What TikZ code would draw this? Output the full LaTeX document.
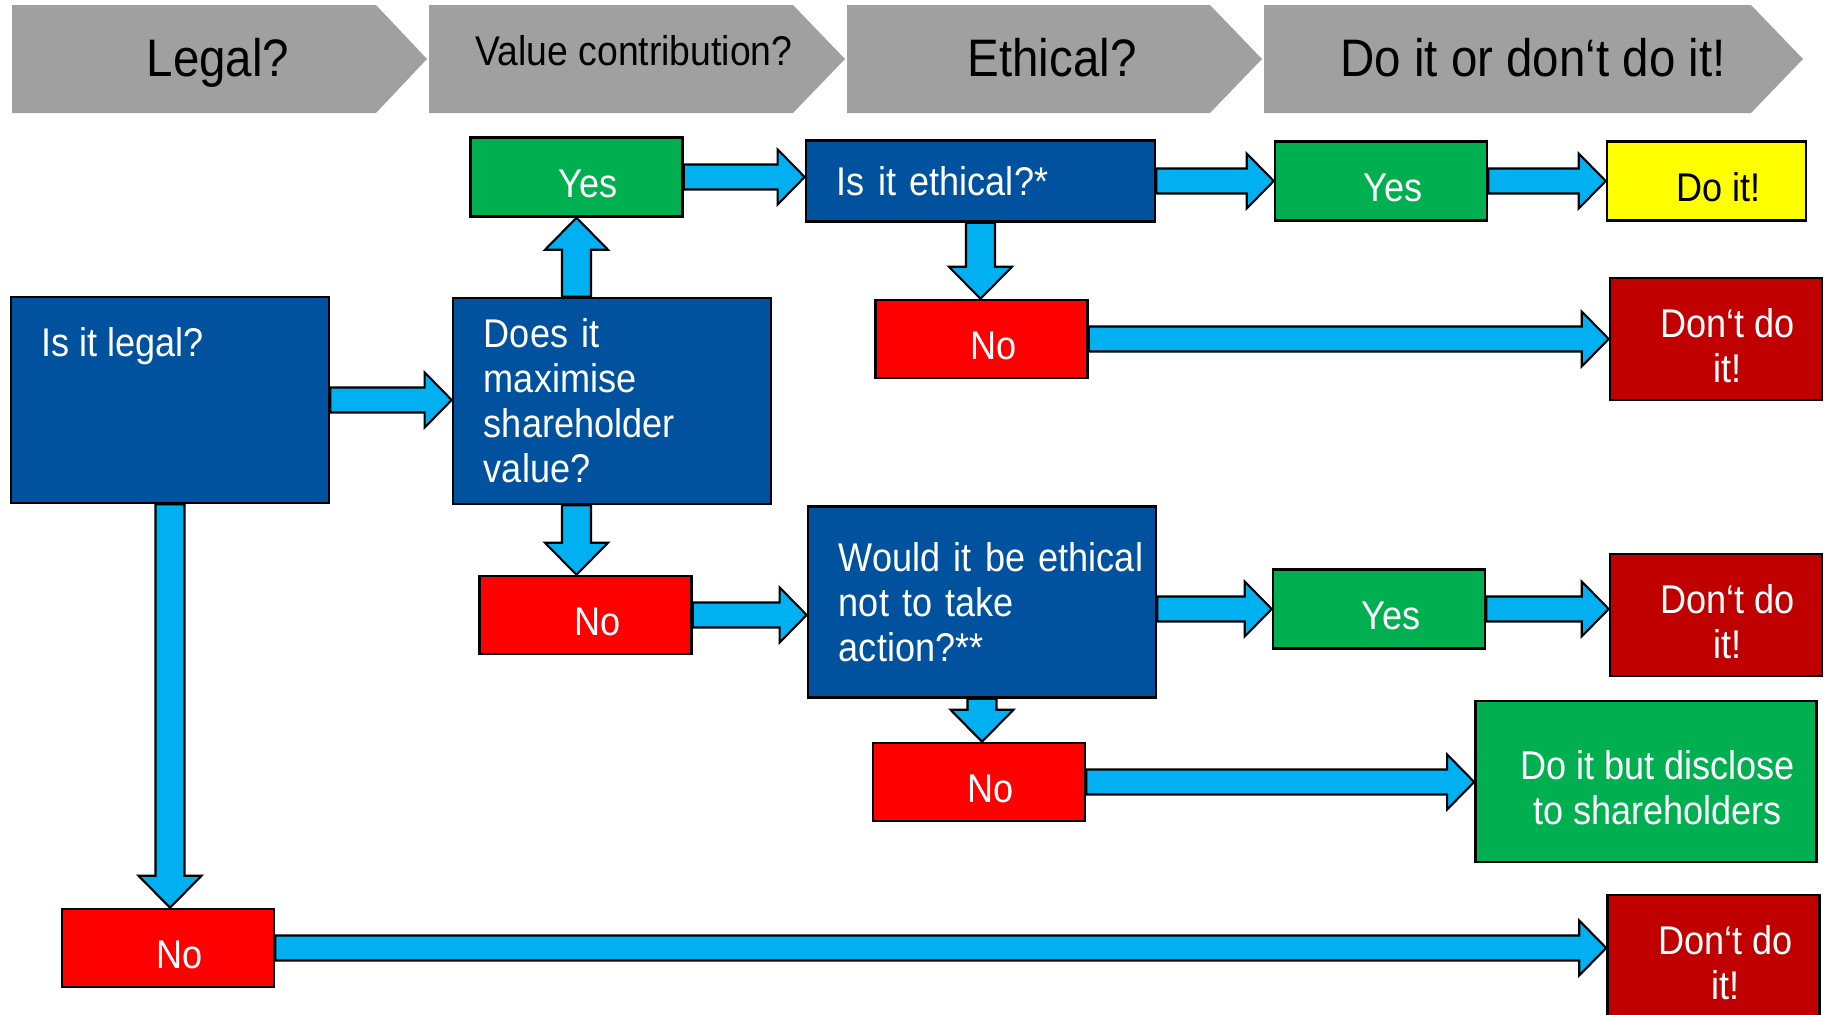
\documentclass[tikz,border=0pt]{standalone}
\usepackage{fontspec}
\setmainfont{Liberation Sans}[FakeStretch=0.9]
\usetikzlibrary{calc}

\definecolor{headgray}{RGB}{160,160,160}
\definecolor{qblue}{RGB}{0,81,158}
\definecolor{okgreen}{RGB}{0,176,80}
\definecolor{nored}{RGB}{255,0,0}
\definecolor{stopred}{RGB}{192,0,0}
\definecolor{goyellow}{RGB}{255,255,0}
\definecolor{arrowblue}{RGB}{0,176,240}

\newcommand{\bodyfont}{\fontsize{11.4pt}{12.8pt}\selectfont}
\newcommand{\headfont}{\fontsize{15pt}{17pt}\selectfont}
\newcommand{\subheadfont}{\fontsize{11.8pt}{14pt}\selectfont}

% block arrow from #1 to #2
\newcommand{\arrsw}{0.125cm}
\newcommand{\arrhw}{0.275cm}
\newcommand{\arrhl}{0.27cm}
\newcommand{\blockarrow}[2]{%
  \coordinate (ba) at ($(#2)!\arrhl!(#1)$);
  \draw[barrow] ($(#1)!\arrsw!-90:(#2)$) -- ($(ba)!\arrsw!-90:(#2)$)
    -- ($(ba)!\arrhw!-90:(#2)$) -- (#2) -- ($(ba)!\arrhw!90:(#2)$)
    -- ($(ba)!\arrsw!90:(#2)$) -- ($(#1)!\arrsw!90:(#2)$) -- cycle;}

\begin{document}
\begin{tikzpicture}[x=0.01cm,y=-0.01cm]
    % styles
    \tikzset{box/.style={draw=black,line width=0.7pt,text=white,font=\bodyfont,inner sep=0pt,align=center},
             qbox/.style={box,fill=qblue,align=left,inner xsep=0.31cm},
             qtxt/.style={text=white,font=\bodyfont,inner sep=0pt},
             boxlbl/.style={text=white,font=\bodyfont,align=center,inner sep=0pt,xshift=0.117cm,yshift=-0.065cm},
             txt/.style={label={[boxlbl]center:{#1}}},
             yesbox/.style={box,fill=okgreen,minimum width=2.12cm,minimum height=0.79cm,txt=Yes},
             nobox/.style={box,fill=nored,minimum width=2.12cm,minimum height=0.78cm,txt=No},
             stopbox/.style={box,fill=stopred,minimum width=2.12cm,minimum height=1.22cm,txt={Don‘t do\\it!}},
             headtxt/.style={font=\headfont,anchor=base,inner sep=0pt},
             barrow/.style={draw=black,line width=0.6pt,fill=arrowblue,line join=miter}}
    \useasboundingbox (0,0) rectangle (1829,1015);

    % header
    \fill[headgray] (12,5) -- (376,5) -- (427,59) -- (376,113) -- (12,113) -- cycle;
    \fill[headgray] (429,5) -- (793,5) -- (845,59) -- (793,113) -- (429,113) -- cycle;
    \fill[headgray] (847,5) -- (1210,5) -- (1262,59) -- (1210,113) -- (847,113) -- cycle;
    \fill[headgray] (1264,5) -- (1751,5) -- (1803,59) -- (1751,113) -- (1264,113) -- cycle;
    \node[headtxt] (h1) at (218,76) {Legal?};
    \node[headtxt,font=\subheadfont] (h2) at (634,65) {Value contribution?};
    \node[headtxt] (h3) at (1052,76) {Ethical?};
    \node[headtxt] (h4) at (1533,76) {Do it or don‘t do it!};

    % nodes
    \node[qbox,minimum width=3.18cm,minimum height=2.06cm] (legal) at (170,400) {};
    \node[qtxt,anchor=north west] (legaltxt) at ($(legal.north west)+(31,31)$) {Is it legal?};
    \node[qbox,minimum width=3.18cm,minimum height=2.06cm,text width=2.56cm] (value) at (612,401) {Does it\\maximise\\shareholder\\value?};
    \node[yesbox] (yes1) at (576.5,177) {};
    \node[qbox,minimum width=3.49cm,minimum height=0.81cm,text width=2.87cm] (ethical) at (980.5,181) {Is it ethical?*};
    \node[yesbox] (yes2) at (1381,181) {};
    \node[box,fill=goyellow,minimum width=1.99cm,minimum height=0.79cm,
          label={[boxlbl,text=black]center:Do it!}] (doit) at (1706.5,181) {};
    \node[nobox] (no1) at (981.5,339) {};
    \node[stopbox] (dont1) at (1716,339) {};
    \node[nobox] (no2) at (585.5,615) {};
    \node[qbox,minimum width=3.48cm,minimum height=1.91cm,text width=2.86cm] (would) at (982,602) {\mbox{Would it be ethical}\\not to take\\action?**};
    \node[yesbox] (yes3) at (1379,609) {};
    \node[stopbox] (dont2) at (1716,615) {};
    \node[nobox] (no3) at (979,782) {};
    \node[box,fill=okgreen,minimum width=3.41cm,minimum height=1.61cm,
          txt={Do it but disclose\\to shareholders}] (disclose) at (1646,781.5) {};
    \node[nobox] (no4) at (168,948) {};
    \node[stopbox] (dont3) at (1713.5,956) {};

    % horizontal arrows
    \blockarrow{legal.east}{legal.east -| value.west}
    \blockarrow{yes1.east}{yes1.east -| ethical.west}
    \blockarrow{ethical.east}{ethical.east -| yes2.west}
    \blockarrow{yes2.east}{yes2.east -| doit.west}
    \blockarrow{no1.east}{no1.east -| dont1.west}
    \blockarrow{no2.east}{no2.east -| would.west}
    \blockarrow{would.east |- yes3.west}{yes3.west}
    \blockarrow{yes3.east}{yes3.east -| dont2.west}
    \blockarrow{no3.east}{no3.east -| disclose.west}
    \blockarrow{no4.east}{no4.east -| dont3.west}

    % vertical arrows
    \begin{scope}
    \renewcommand{\arrsw}{0.145cm}
    \renewcommand{\arrhw}{0.315cm}
    \renewcommand{\arrhl}{0.32cm}
    \blockarrow{yes1.south |- value.north}{yes1.south}
    \blockarrow{yes1.south |- value.south}{yes1.south |- no2.north}
    \blockarrow{ethical.south}{ethical.south |- no1.north}
    \blockarrow{would.south}{would.south |- no3.north}
    \blockarrow{legal.south}{legal.south |- no4.north}
    \end{scope}
\end{tikzpicture}
\end{document}
